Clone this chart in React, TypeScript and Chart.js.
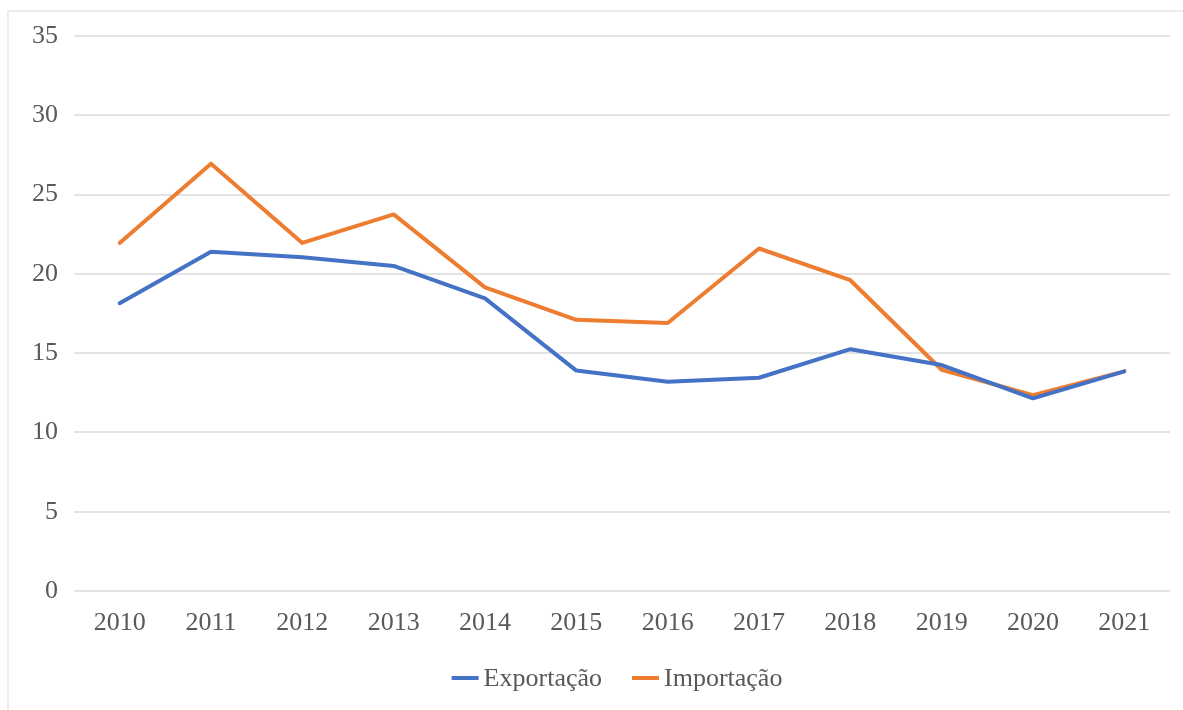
import React, { useEffect, useRef } from "react";
import { Chart, registerables } from "chart.js";

Chart.register(...registerables);

const years = ["2010", "2011", "2012", "2013", "2014", "2015", "2016", "2017", "2018", "2019", "2020", "2021"];
const exportacao = [18.15, 21.4, 21.05, 20.5, 18.45, 13.9, 13.2, 13.45, 15.25, 14.25, 12.15, 13.85];
const importacao = [21.95, 26.95, 21.95, 23.75, 19.15, 17.1, 16.9, 21.6, 19.6, 13.95, 12.35, 13.85];

const FONT = "'Liberation Serif', 'Times New Roman', serif";
const TEXT = "#595959";
const FSIZE = 26;

const legendPlugin = {
  id: "customLegend",
  afterDraw(chart: any) {
    const ctx = chart.ctx;
    ctx.save();
    ctx.font = `${FSIZE}px ${FONT}`;
    ctx.textBaseline = "middle";
    ctx.textAlign = "left";
    const lineW = 27;
    const gapText = 5;
    const gapItem = 30;
    const items = chart.data.datasets.map((d: any) => ({
      label: d.label,
      color: d.borderColor,
      w: lineW + gapText + ctx.measureText(d.label).width,
    }));
    const total = items.reduce((a: number, b: any) => a + b.w, 0) + gapItem * (items.length - 1);
    let x = 617 - total / 2;
    const y = 678;
    items.forEach((it: any) => {
      ctx.strokeStyle = it.color;
      ctx.lineWidth = 4;
      ctx.lineCap = "butt";
      ctx.beginPath();
      ctx.moveTo(x, y);
      ctx.lineTo(x + lineW, y);
      ctx.stroke();
      ctx.fillStyle = TEXT;
      ctx.fillText(it.label, x + lineW + gapText, y + 1);
      x += it.w + gapItem;
    });
    ctx.restore();
  },
};

export default function App() {
  const ref = useRef<HTMLCanvasElement | null>(null);
  useEffect(() => {
    if (!ref.current) return;
    const chart = new Chart(ref.current, {
      type: "line",
      data: {
        labels: years,
        datasets: [
          {
            label: "Exportação",
            data: exportacao,
            borderColor: "#4472C4",
            backgroundColor: "#4472C4",
            borderWidth: 4,
            borderJoinStyle: "round",
            borderCapStyle: "round",
            pointRadius: 0,
            tension: 0,
          },
          {
            label: "Importação",
            data: importacao,
            borderColor: "#ED7D31",
            backgroundColor: "#ED7D31",
            borderWidth: 4,
            borderJoinStyle: "round",
            borderCapStyle: "round",
            pointRadius: 0,
            tension: 0,
          },
        ],
      },
      plugins: [legendPlugin],
      options: {
        animation: false,
        responsive: false,
        layout: { padding: { left: 10, right: 13, top: 36, bottom: 73 } },
        plugins: {
          legend: { display: false },
          tooltip: { enabled: false },
        },
        scales: {
          x: {
            offset: true,
            grid: { display: false, drawTicks: false },
            border: { display: false },
            ticks: { font: { family: FONT, size: FSIZE }, color: TEXT, padding: 17, maxRotation: 0, autoSkip: false },
            afterFit: (s: any) => {
              s.height = 46;
            },
          },
          y: {
            min: 0,
            max: 35,
            ticks: { stepSize: 5, font: { family: FONT, size: FSIZE }, color: TEXT, padding: 16 },
            grid: { color: "#e3e3e3", lineWidth: 2, drawTicks: false },
            border: { display: false },
            afterFit: (s: any) => {
              s.width = 64;
            },
          },
        },
      },
    });
    return () => chart.destroy();
  }, []);
  return (
    <div style={{ position: "fixed", left: 0, top: 0, width: 1183, height: 710, background: "#fff" }}>
      <div
        style={{
          position: "absolute",
          left: 7,
          top: 10,
          width: 1176,
          height: 700,
          borderLeft: "2px solid #ececec",
          borderTop: "2px solid #ececec",
        }}
      />
      <canvas ref={ref} width={1183} height={710} style={{ position: "absolute", left: 0, top: 0 }} />
    </div>
  );
}
